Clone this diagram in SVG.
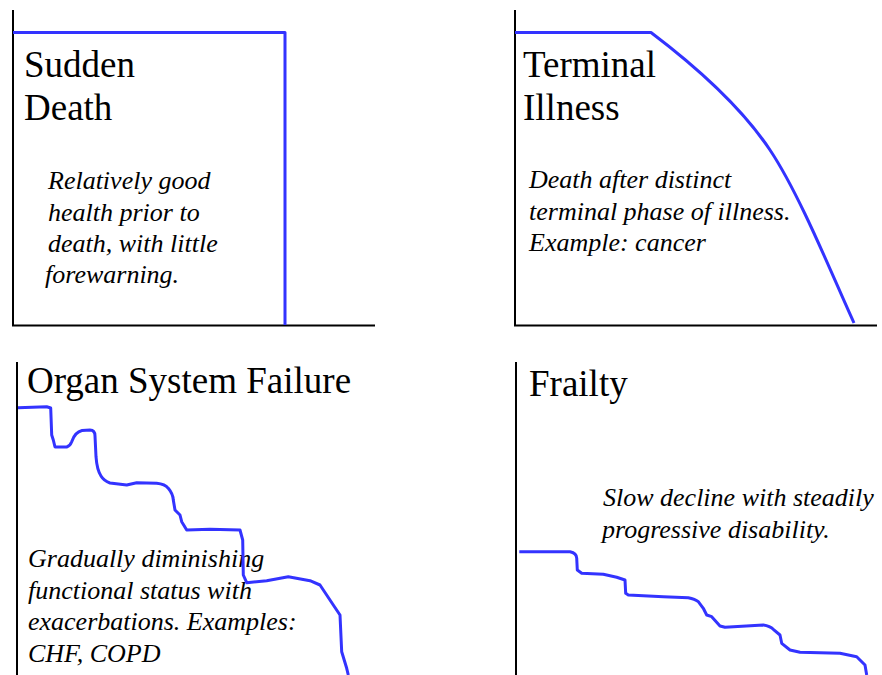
<svg xmlns="http://www.w3.org/2000/svg" width="882" height="675" viewBox="0 0 882 675">
<style>
.axis{stroke:#000;stroke-width:2;fill:none}
.curve{stroke:#3333ff;stroke-width:3;fill:none;stroke-linejoin:round;stroke-linecap:butt}
.title{font-family:"Liberation Serif","Times New Roman",serif;font-size:37px;fill:#000}
.desc{font-family:"Liberation Serif","Times New Roman",serif;font-size:26px;font-style:italic;fill:#000}
</style>
<rect width="882" height="675" fill="#fff"/>
<g id="sudden-death">
<path class="axis" d="M13,10 V326.5 M12,325.5 H375"/>
<path class="curve" d="M13,32.5 H285 V325"/>
<text class="title" x="24" y="77">Sudden</text>
<text class="title" x="24" y="120">Death</text>
<text class="desc"><tspan x="48" y="189">Relatively good</tspan><tspan x="48" y="220.5">health prior to</tspan><tspan x="48" y="252">death, with little</tspan><tspan x="45" y="283">forewarning.</tspan></text>
</g>
<g id="terminal-illness">
<path class="axis" d="M515,10 V326.5 M514,325.5 H877"/>
<path class="curve" d="M515,32.5 H651 C690,62 740,105 770,150 S832,275 854,323"/>
<text class="title" x="523" y="77">Terminal</text>
<text class="title" x="523" y="120">Illness</text>
<text class="desc"><tspan x="529" y="188">Death after distinct</tspan><tspan x="529" y="219.5">terminal phase of illness.</tspan><tspan x="529" y="251">Example: cancer</tspan></text>
</g>
<g id="organ-system-failure">
<path class="axis" d="M17,362 V675"/>
<text class="title" x="27" y="393">Organ System Failure</text>
<text class="desc"><tspan x="28" y="567">Gradually diminishing</tspan><tspan x="28" y="598.5">functional status with</tspan><tspan x="28" y="630">exacerbations. Examples:</tspan><tspan x="28" y="661.5">CHF, COPD</tspan></text>
<path class="curve" d="M18,407.7 L46.7,406.7 L50.7,408 L51.7,435 L53.3,440 L55,447 L66.7,447 Q70,446 71.7,441.7 Q75,432 82,430.5 L90,430 Q95,430 95,436 L96,456.7 Q97,470 101,476 Q104,481 110,483 L126.7,485 L136.7,482.7 L156.7,483.3 Q165,484 168.3,488.3 Q173,494 173.3,500 L175,510 L180,515 L181.7,521.7 L186.7,530 L210,529.3 L240,530 L242.7,540 L243.3,575 L246.7,582.7 L266.7,580.7 L288.3,576.7 L310,580.7 L320,585 L333.3,605 L340,615 L341.7,651.7 L346.7,668.3 L348.3,675"/>
</g>
<g id="frailty">
<path class="axis" d="M516,362 V675"/>
<text class="title" x="529" y="396">Frailty</text>
<text class="desc"><tspan x="603" y="506">Slow decline with steadily</tspan><tspan x="602" y="538">progressive disability.</tspan></text>
<path class="curve" d="M519.3,551.7 L570,551.7 Q576.5,553 576.7,558 L577.3,570 L581.7,573.3 L603.3,574.3 L616.7,577.3 L625,580 L625.7,593.3 L628.3,595 L663.3,596.7 L688.3,597.7 Q695,599 698.3,601.7 L703.3,608.3 L706.7,615 L711.7,616.7 L720,626 L725,627.3 L763.3,625 Q770,626 773.3,629.3 L780,635 L781.7,643.3 L790,650 L800,652.3 L840,653.3 L856.7,656.7 L865,665 L866.7,675"/>
</g>
<g id="connectors"/>
</svg>
